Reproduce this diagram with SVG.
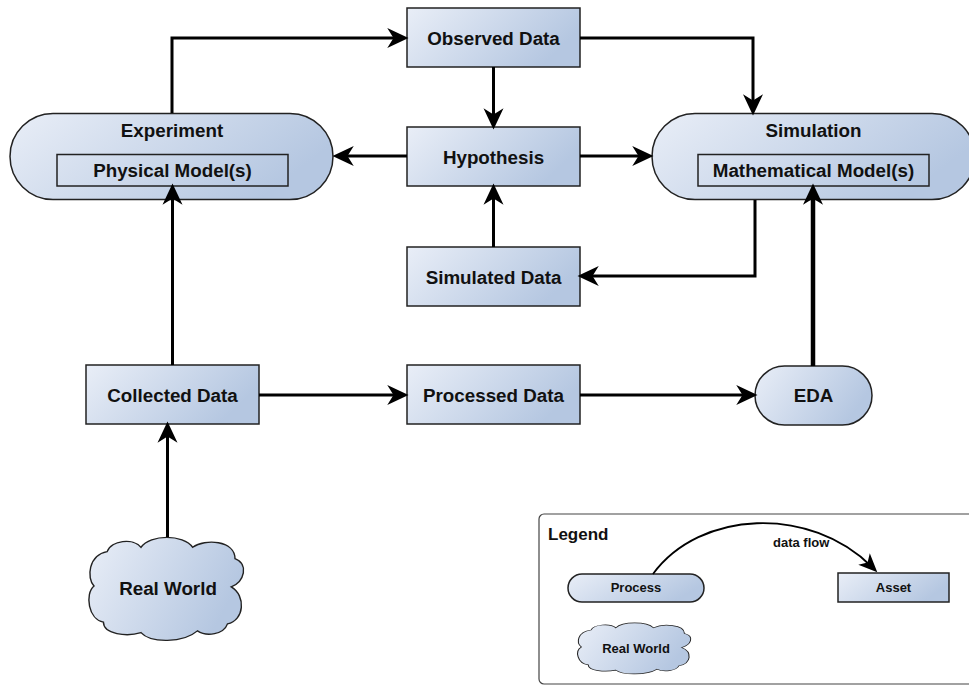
<svg xmlns="http://www.w3.org/2000/svg" width="969" height="686" viewBox="0 0 969 686">
  <defs>
    <linearGradient id="nodeFill" x1="0" y1="0" x2="1" y2="0.35">
      <stop offset="0" stop-color="#e9eef7"/>
      <stop offset="1" stop-color="#b5c7e1"/>
    </linearGradient>
    <!-- concave-backed arrowhead, tip sits 10px past the path end -->
    <marker id="arrow" markerUnits="userSpaceOnUse" markerWidth="30" markerHeight="30" viewBox="-10 -10 24 20" refX="0" refY="0" orient="auto" overflow="visible">
      <path d="M10,0 L-7,-8 L-2,0 L-7,8 Z" fill="#000"/>
    </marker>
    <marker id="arrowSmall" markerUnits="userSpaceOnUse" markerWidth="30" markerHeight="30" viewBox="-10 -10 24 20" refX="0" refY="0" orient="auto" overflow="visible">
      <path d="M6,0 L-9,-6.5 L-5,0 L-9,6.5 Z" fill="#000"/>
    </marker>
    <!-- cloud outline in local units, roughly 160 x 110 -->
    <path id="cloudShape" d="M0,50 C-8,41 -6,15 14,11 C18,-2 42,-5 50,6 C60,-9 95,-9 105,6 C118,-4 150,-2 150,19 C165,25 160,45 146,51 C162,61 160,89 142,93 C138,105 120,108 110,101 C95,115 60,115 50,103 C35,108 10,105 10,91 C-6,88 -10,59 0,50 Z"/>
  </defs>
  <style>
    .node { fill: url(#nodeFill); stroke: #222; stroke-width: 1.5; }
    .inner { fill: none; stroke: #222; stroke-width: 1.5; }
    .label { font-family: "Liberation Sans", Arial, sans-serif; font-weight: bold; font-size: 18.8px; fill: #111; text-anchor: middle; }
    .small { font-family: "Liberation Sans", Arial, sans-serif; font-weight: bold; font-size: 13px; fill: #111; text-anchor: middle; }
    .edge { fill: none; stroke: #000; stroke-width: 3; marker-end: url(#arrow); }
    .edge.heavy { stroke-width: 4.5; }
    .legendEdge { fill: none; stroke: #000; stroke-width: 1.8; marker-end: url(#arrowSmall); }
  </style>

  <rect width="969" height="686" fill="#fff"/>

  <g id="experiment">
    <rect class="node" x="10" y="113.5" width="323" height="86" rx="43" ry="43"/>
    <text class="label" x="172" y="137">Experiment</text>
    <rect class="inner" x="57" y="154.5" width="231" height="31.5"/>
    <text class="label" x="172.5" y="177">Physical Model(s)</text>
  </g>

  <g id="observed-data">
    <rect class="node" x="407" y="8" width="173" height="59"/>
    <text class="label" x="493.5" y="44.5">Observed Data</text>
  </g>

  <g id="hypothesis">
    <rect class="node" x="407" y="127" width="173" height="59"/>
    <text class="label" x="493.5" y="163.5">Hypothesis</text>
  </g>

  <g id="simulation">
    <rect class="node" x="652" y="113.5" width="323" height="86" rx="43" ry="43"/>
    <text class="label" x="813.5" y="137">Simulation</text>
    <rect class="inner" x="698" y="154.5" width="231" height="31.5"/>
    <text class="label" x="813.5" y="177">Mathematical Model(s)</text>
  </g>

  <g id="simulated-data">
    <rect class="node" x="407" y="247" width="173" height="59"/>
    <text class="label" x="493.5" y="283.5">Simulated Data</text>
  </g>

  <g id="collected-data">
    <rect class="node" x="86" y="365" width="173" height="59"/>
    <text class="label" x="172.5" y="401.5">Collected Data</text>
  </g>

  <g id="processed-data">
    <rect class="node" x="407" y="365" width="173" height="59"/>
    <text class="label" x="493.5" y="401.5">Processed Data</text>
  </g>

  <g id="eda">
    <rect class="node" x="755" y="366" width="117" height="59" rx="29.5" ry="29.5"/>
    <text class="label" x="813.5" y="402">EDA</text>
  </g>

  <g id="real-world">
    <use href="#cloudShape" class="node" transform="translate(94,542) scale(0.94,0.88)" style="vector-effect: non-scaling-stroke"/>
    <text class="label" x="168" y="595">Real World</text>
  </g>

  <g id="connectors">
    <path class="edge" d="M172,113 V38 H396"/>
    <path class="edge" d="M493.5,67 V117"/>
    <path class="edge" d="M580,38 H753 V103"/>
    <path class="edge" d="M407,156 H345"/>
    <path class="edge" d="M580,156 H641"/>
    <path class="edge" d="M493.5,247 V196"/>
    <path class="edge" d="M755,200 V276 H590"/>
    <path class="edge" d="M172.5,365 V196"/>
    <path class="edge" d="M259,395 H396"/>
    <path class="edge" d="M580,395 H745"/>
    <path class="edge heavy" d="M813,366 V196"/>
    <path class="edge" d="M167.5,537 V434"/>
  </g>

  <g id="legend">
    <rect x="539" y="514" width="440" height="170" rx="5" ry="5" fill="#fff" stroke="#444" stroke-width="1.2"/>
    <text x="548" y="540" font-family="Liberation Sans, Arial, sans-serif" font-weight="bold" font-size="17" fill="#111">Legend</text>
    <g id="legend-process">
      <rect class="node" x="568" y="574" width="136" height="28" rx="14" ry="14"/>
      <text class="small" x="636" y="592">Process</text>
    </g>
    <g id="legend-asset">
      <rect class="node" x="838" y="573" width="111" height="29"/>
      <text class="small" x="893.5" y="592">Asset</text>
    </g>
    <g id="legend-real-world">
      <use href="#cloudShape" class="node" transform="translate(581.4,625.2) scale(0.687,0.436)" style="vector-effect: non-scaling-stroke"/>
      <text class="small" x="636" y="653">Real World</text>
    </g>
    <path class="legendEdge" d="M653,574 C700,510 810,505 872,567"/>
    <text x="773" y="547" font-family="Liberation Sans, Arial, sans-serif" font-weight="bold" font-size="13" fill="#111">data flow</text>
  </g>
</svg>
